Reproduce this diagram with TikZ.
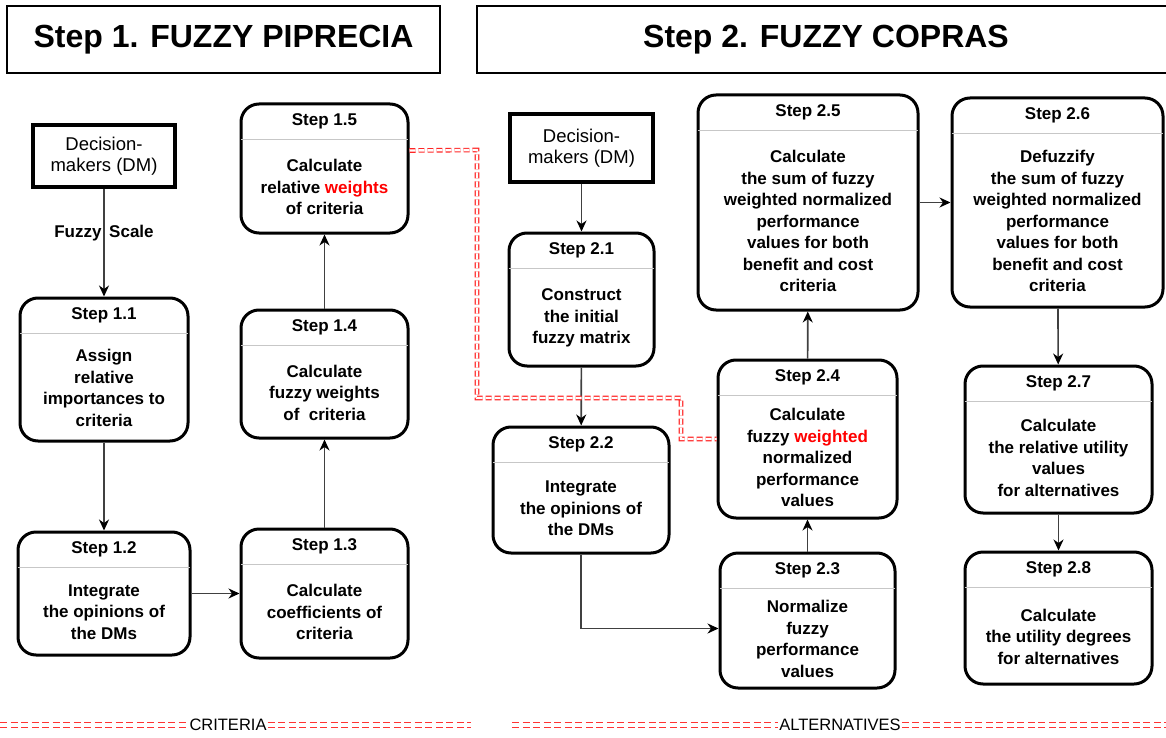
\documentclass[tikz,border=0pt]{standalone}
\usepackage{fontspec}
\setmainfont{Liberation Sans}
\usetikzlibrary{arrows.meta,calc}
\tikzset{
  stepbox/.style={draw=black, line width=3pt, rounded corners=18pt, inner sep=0pt, fill=white},
  dmbox/.style={draw=black, line width=3.5pt, inner sep=0pt, align=center, font=\fontsize{18.5}{21.5}\selectfont},
  titlebox/.style={draw=black, line width=2.5pt, inner sep=0pt, font=\fontsize{32}{36}\selectfont\bfseries},
  sepline/.style={draw=black!22, line width=1.5pt, shorten <=1.4pt, shorten >=1.4pt},
  arr/.style={draw=black!75, line width=1.6pt, -{Stealth[length=11pt,width=10pt,inset=3.5pt,color=black]}},
  hdr/.style={font=\fontsize{17}{20}\selectfont\bfseries, inner sep=0pt, anchor=base},
  bodytext/.style={align=center, font=\fontsize{17}{21.5}\selectfont\bfseries, inner sep=0pt},
  lbl/.style={font=\fontsize{17}{20}\selectfont\bfseries, inner sep=0pt},
  reddash/.style={draw=red!85, line width=1.1pt, double=white, double distance=2.4pt, dash pattern=on 6pt off 3pt},
  bottomdash/.style={draw=red!80, line width=1.1pt, double=white, double distance=3.5pt, dash pattern=on 7pt off 3.5pt},
  sidelbl/.style={font=\fontsize{16.5}{20}\selectfont, inner sep=1pt},
}
% #1 name, #2 x1, #3 y1, #4 x2, #5 y2, #6 header, #7 body
\newcommand\mystep[7]{%
  \node[stepbox, minimum width={(#4-#2)*1pt}, minimum height={(#5-#3)*1pt}] (#1) at ({(#2+#4)/2},{(#3+#5)/2}) {};
  \draw[sepline] ([yshift=-37pt]#1.north west) -- ([yshift=-37pt]#1.north east);
  \node[hdr] (#1h) at ([yshift=-23pt]#1.north) {#6};
  \node[bodytext] (#1b) at ($([yshift=-37pt]#1.north)!0.5!(#1.south)$) {#7};
}
\begin{document}
\begin{tikzpicture}[x=1pt, y=-1pt]
\useasboundingbox (0,0) rectangle (1166,738);

% titles
\node[titlebox, minimum width=433pt, minimum height=67pt] (t1) at (223.5,39.5) {Step 1. FUZZY PIPRECIA};
\node[titlebox, minimum width=698pt, minimum height=67pt] (t2) at (826,39.5) {Step 2. FUZZY COPRAS};

% left part
\node[dmbox, minimum width=142pt, minimum height=62pt] (dm1) at (104,156) {Decision-\\makers (DM)};
\mystep{s11}{20}{298}{188}{441}{Step 1.1}{Assign\\relative\\importances to\\criteria}
\mystep{s12}{18}{532}{190}{655}{Step 1.2}{Integrate\\the opinions of\\the DMs}
\mystep{s13}{241}{529}{408}{658}{Step 1.3}{Calculate\\coefficients of\\criteria}
\mystep{s14}{241}{310}{408}{438}{Step 1.4}{Calculate\\fuzzy weights\\of~~criteria}
\mystep{s15}{241}{104}{408}{233}{Step 1.5}{Calculate\\relative \textcolor{red}{weights}\\of criteria}

\draw[arr] (dm1) -- (s11);
\node[lbl] (fs) at (104,233) {Fuzzy\hspace{0.45em}Scale};
\draw[arr] (s11) -- (s12);
\draw[arr] (s12) -- (s13);
\draw[arr] (s13) -- (s14);
\draw[arr] (s14) -- (s15);

% right part
\node[dmbox, minimum width=143pt, minimum height=68pt] (dm2) at (581.5,148) {Decision-\\makers (DM)};
\mystep{s21}{509}{233}{654}{366}{Step 2.1}{Construct\\the initial\\fuzzy matrix}
\mystep{s22}{493}{427}{669}{553}{Step 2.2}{Integrate\\the opinions of\\the DMs}
\mystep{s23}{720}{553}{895}{688}{Step 2.3}{Normalize\\fuzzy\\performance\\values}
\mystep{s24}{718}{360}{897}{518}{Step 2.4}{Calculate\\fuzzy \textcolor{red}{weighted}\\normalized\\performance\\values}
\mystep{s25}{698}{95}{918}{310}{Step 2.5}{Calculate\\the sum of fuzzy\\weighted normalized\\performance\\values for both\\benefit and cost\\criteria}
\mystep{s26}{952}{98}{1163}{307}{Step 2.6}{Defuzzify\\the sum of fuzzy\\weighted normalized\\performance\\values for both\\benefit and cost\\criteria}
\mystep{s27}{965}{366}{1152}{513}{Step 2.7}{Calculate\\the relative utility\\values\\for alternatives}
\mystep{s28}{965}{552}{1152}{684}{Step 2.8}{Calculate\\the utility degrees\\for alternatives}

\draw[arr] (dm2) -- (s21);
\draw[arr] (s21) -- (s22);
\draw[arr] (s22.south) |- ([yshift=-8pt]s23.west);
\draw[arr] (s23) -- (s24);
\draw[arr] (s24) -- (s25);
\draw[arr] (s25) -- (s26);
\draw[arr] (s26) -- (s27);
\draw[arr] (s27) -- (s28);

% red link between weights
\coordinate (r1) at (477,150);
\coordinate (r2) at (477,398);
\coordinate (r3) at (681,398);
\coordinate (r4) at (681,439);
\draw[reddash] ([yshift=18pt]s15.east) -- (r1) -- (r2) -- (r3) -- (r4) -- (s24.west);

% bottom labels
\coordinate (cl) at (0,725);
\coordinate (cr) at (471,725);
\coordinate (al) at (512,725);
\coordinate (ar) at (1166,725);
\node[sidelbl] (crit) at (228,725) {CRITERIA};
\node[sidelbl] (alt) at (840,725) {ALTERNATIVES};
\draw[bottomdash] (cl) -- (crit.west);
\draw[bottomdash] (crit.east) -- (cr);
\draw[bottomdash] (al) -- (alt.west);
\draw[bottomdash] (alt.east) -- (ar);
\end{tikzpicture}
\end{document}
